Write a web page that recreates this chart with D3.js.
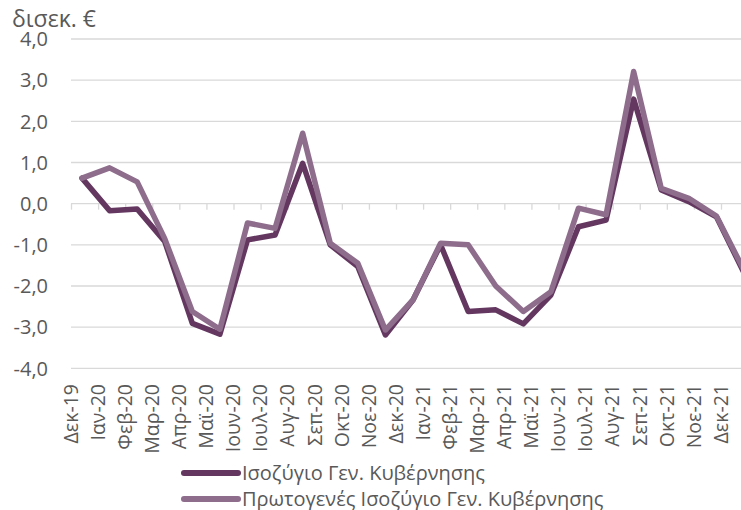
<!DOCTYPE html>
<html>
<head>
<meta charset="utf-8">
<script src="https://cdn.jsdelivr.net/npm/d3@7"></script>
<style>
  html, body { margin: 0; padding: 0; background: #ffffff; }
  svg { display: block; font-family: "Open Sans", "Noto Sans", sans-serif; }
</style>
</head>
<body>
<svg id="chart" width="741" height="510"></svg>
<script>
// Monthly categories shown on the horizontal axis
const months = ["Δεκ-19","Ιαν-20","Φεβ-20","Μαρ-20","Απρ-20","Μαϊ-20","Ιουν-20","Ιουλ-20",
  "Αυγ-20","Σεπ-20","Οκτ-20","Νοε-20","Δεκ-20","Ιαν-21","Φεβ-21","Μαρ-21","Απρ-21",
  "Μαϊ-21","Ιουν-21","Ιουλ-21","Αυγ-21","Σεπ-21","Οκτ-21","Νοε-21","Δεκ-21"];

// General government balance, billion €
const balance = [0.62, -0.17, -0.13, -0.92, -2.91, -3.17, -0.88, -0.76, 0.98, -1.00,
  -1.53, -3.19, -2.34, -1.00, -2.62, -2.58, -2.92, -2.22, -0.56, -0.40, 2.54, 0.33,
  0.05, -0.32, -1.68];

// General government primary balance, billion €
const primary = [0.62, 0.87, 0.53, -0.85, -2.62, -3.05, -0.47, -0.60, 1.71, -0.96,
  -1.45, -3.07, -2.34, -0.96, -1.00, -2.00, -2.62, -2.14, -0.11, -0.27, 3.21, 0.37,
  0.13, -0.30, -1.62];

const yTicks = [-4, -3, -2, -1, 0, 1, 2, 3, 4];

const seriesNames = ["Ισοζύγιο Γεν. Κυβέρνησης", "Πρωτογενές Ισοζύγιο Γεν. Κυβέρνησης"];
const seriesColors = ["#633760", "#8e6c8c"];
const unitLabel = "δισεκ. €";

const svg = d3.select("#chart");
const plotLeft = 71, plotRight = 760;

const grey = "#595959";
const gridColor = "#d9d9d9";

const greek = d3.formatLocale({ decimal: ",", thousands: ".", grouping: [3], currency: ["", " €"], minus: "-" });
const fmt = greek.format(".1f");

const y = d3.scaleLinear().domain([-4, 4]).range([368.3, 39]);
// category axis (ticks and labels)
const x = d3.scalePoint().domain(months).range([71, 721]);
// series positions across the plot width
const xSeries = d3.scalePoint().domain(months).range([82, 744]);

// horizontal gridlines
svg.append("g").selectAll("line").data(yTicks).join("line")
  .attr("x1", plotLeft).attr("x2", plotRight)
  .attr("y1", d => y(d)).attr("y2", d => y(d))
  .attr("stroke", gridColor).attr("stroke-width", 1.3);

// value axis labels
svg.append("g").selectAll("text").data(yTicks).join("text")
  .attr("x", 48).attr("y", d => y(d)).attr("dy", "0.36em")
  .attr("text-anchor", "end")
  .attr("font-size", 20).attr("fill", grey)
  .text(d => fmt(d));

// unit label
svg.append("text").attr("x", 12).attr("y", 27)
  .attr("font-size", 23).attr("fill", grey).text(unitLabel);

// category axis along zero
const xAxis = d3.axisBottom(x).tickSize(6).tickFormat("");
const axisG = svg.append("g").attr("transform", `translate(0,${y(0)})`).call(xAxis);
axisG.select(".domain").remove();
axisG.selectAll(".tick line").attr("stroke", gridColor).attr("stroke-width", 1.3);

// rotated month labels
svg.append("g").selectAll("text").data(months).join("text")
  .attr("transform", d => `translate(${x(d)},384) rotate(-90)`)
  .attr("dy", "0.35em")
  .attr("text-anchor", "end")
  .attr("font-size", 19.5).attr("fill", grey)
  .text(d => d);

// series lines
const line = d3.line().x((d, i) => xSeries(months[i])).y(d => y(d));
[balance, primary].forEach((vals, i) => {
  svg.append("path").datum(vals)
    .attr("d", line)
    .attr("fill", "none")
    .attr("stroke", seriesColors[i])
    .attr("stroke-width", 5.5)
    .attr("stroke-linejoin", "round")
    .attr("stroke-linecap", "round");
});

// legend
const legend = svg.append("g");
seriesNames.forEach((name, i) => {
  const ly = 473 + i * 26;
  legend.append("line")
    .attr("x1", 184).attr("x2", 238).attr("y1", ly).attr("y2", ly)
    .attr("stroke", seriesColors[i]).attr("stroke-width", 6)
    .attr("stroke-linecap", "round");
  legend.append("text")
    .attr("x", 242).attr("y", ly).attr("dy", "0.36em")
    .attr("font-size", 20).attr("fill", grey)
    .text(name);
});
</script>
</body>
</html>
